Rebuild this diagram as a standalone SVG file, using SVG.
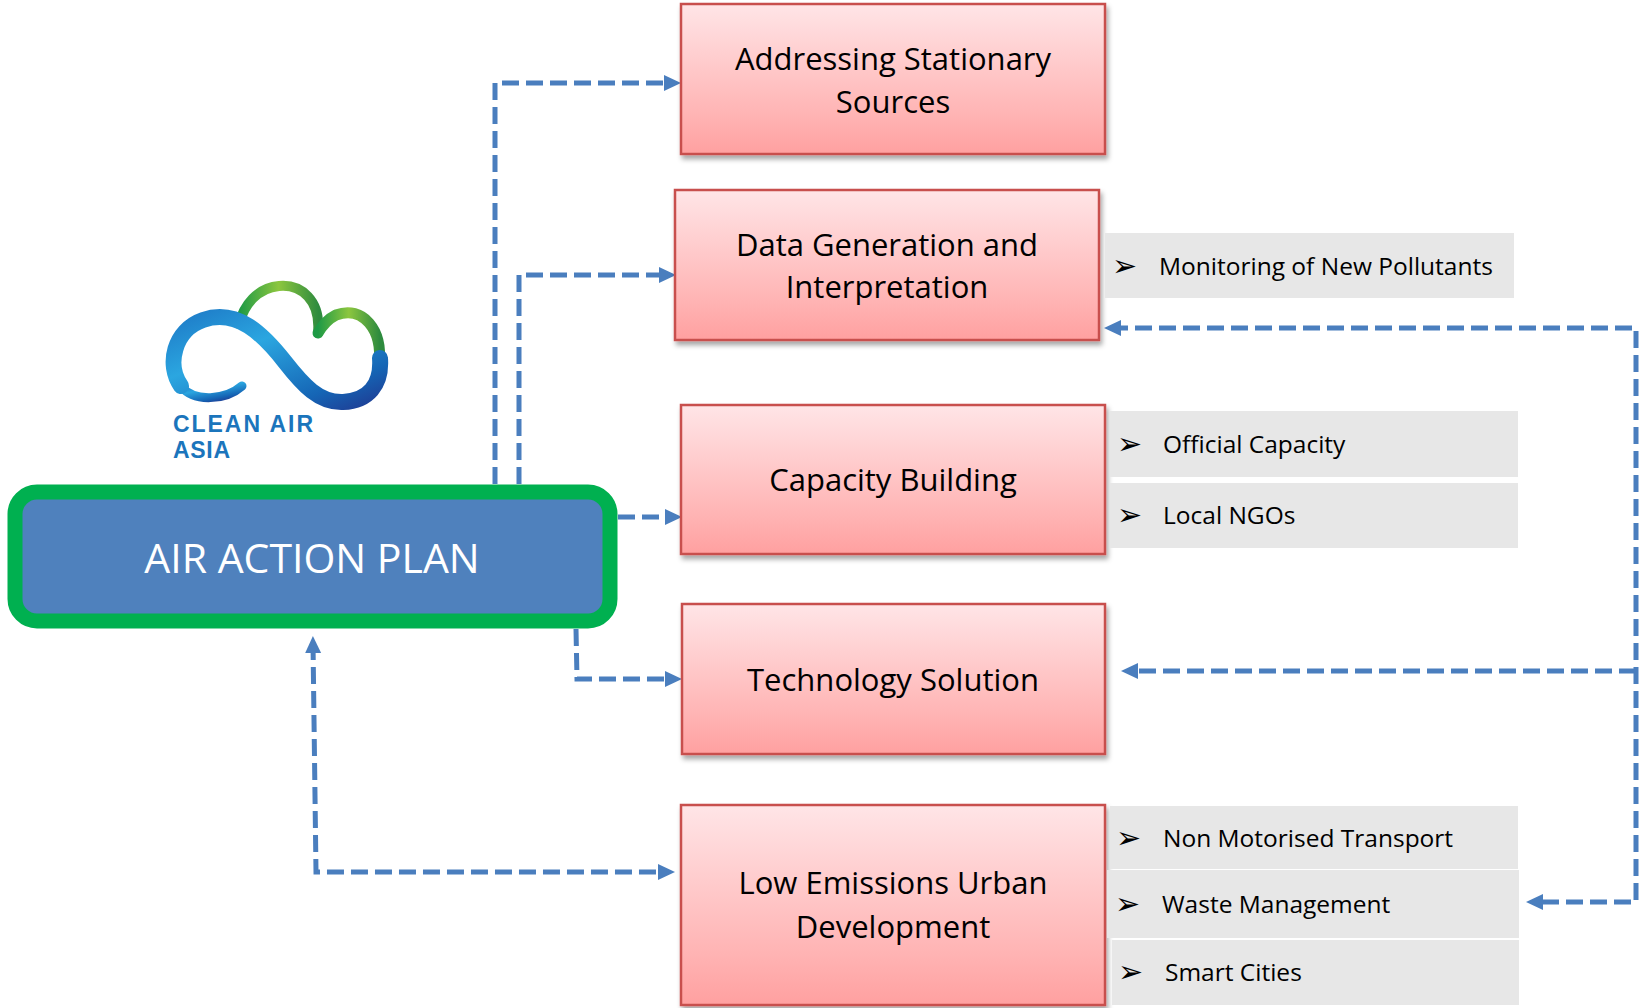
<svg xmlns="http://www.w3.org/2000/svg" width="1640" height="1008" viewBox="0 0 1640 1008">
<defs>
<style>
.box{fill:url(#pink);stroke:#C8504E;stroke-width:2.5;filter:url(#sh)}
.bt{font-family:"Open Sans","Liberation Sans",sans-serif;font-size:31px;fill:#000;text-anchor:middle}
.row{fill:#E7E7E7}
.rt{font-family:"Open Sans","Liberation Sans",sans-serif;font-size:24.5px;fill:#000}
.bul{font-family:"DejaVu Sans",sans-serif;font-size:30px;fill:#000}
.con{fill:none;stroke:#4A7EBE;stroke-width:5;stroke-dasharray:17 7}
.logo{font-family:"Liberation Sans",Arial,sans-serif;font-weight:bold;font-size:23px;fill:#1B75BC}
</style>
<linearGradient id="pink" x1="0" y1="0" x2="0" y2="1">
<stop offset="0" stop-color="#FFE5E7"/>
<stop offset="0.75" stop-color="#FFB3B3"/>
<stop offset="1" stop-color="#FFA0A0"/>
</linearGradient>
<linearGradient id="blueg" x1="0" y1="0" x2="1" y2="1">
<stop offset="0" stop-color="#1E7CC8"/>
<stop offset="0.35" stop-color="#2BA6E0"/>
<stop offset="0.8" stop-color="#1565B5"/>
<stop offset="1" stop-color="#1E3F96"/>
</linearGradient>
<linearGradient id="greeng" x1="0" y1="0" x2="1" y2="0">
<stop offset="0" stop-color="#1E9A45"/>
<stop offset="0.5" stop-color="#8CC63F"/>
<stop offset="1" stop-color="#2E8B3E"/>
</linearGradient>
<filter id="sh" x="-5%" y="-5%" width="115%" height="120%">
<feDropShadow dx="2" dy="4" stdDeviation="2.5" flood-color="#000" flood-opacity="0.35"/>
</filter>
<marker id="ah" markerUnits="userSpaceOnUse" markerWidth="18" markerHeight="18" refX="10" refY="8" orient="auto-start-reverse">
<path d="M0,0 L17,8 L0,16 z" fill="#4A7EBE"/>
</marker>
</defs>
<rect width="1640" height="1008" fill="#fff"/>

<g id="logo">
<path d="M318 333 C321 300 301 284 279 286 C257 288 244 305 239 324" fill="none" stroke="url(#greeng)" stroke-width="10" stroke-linecap="round"/>
<path d="M379 364 C383 330 363 305 336 315 C328 319 322 326 318 333" fill="none" stroke="url(#greeng)" stroke-width="11" stroke-linecap="round"/>
<path d="M242 386 C226 400 194 403 181 386" fill="none" stroke="url(#blueg)" stroke-width="9" stroke-linecap="round"/>
<path d="M181 386 C166 365 174 330 203 320 C237 308 263 334 285 362 C303 385 319 403 343 402 C368 401 382 385 380 358" fill="none" stroke="url(#blueg)" stroke-width="16" stroke-linecap="round"/>
<text class="logo" x="173" y="432" textLength="140" lengthAdjust="spacing">CLEAN AIR</text>
<text class="logo" x="173" y="458" textLength="57" lengthAdjust="spacing">ASIA</text>
</g>

<g id="connectors">
<path class="con" d="M495 484 V83 H674" marker-end="url(#ah)"/>
<path class="con" d="M519 484 V275 H669" marker-end="url(#ah)"/>
<path class="con" d="M618 517 H675" marker-end="url(#ah)"/>
<path class="con" d="M576 629 L577 679 H675" marker-end="url(#ah)"/>
<path class="con" d="M313 643 L316 872 H668" marker-start="url(#ah)" marker-end="url(#ah)"/>
<path class="con" d="M1111 328 H1636 V902 H1533" marker-start="url(#ah)" marker-end="url(#ah)"/>
<path class="con" d="M1636 671 H1128" marker-end="url(#ah)"/>
</g>

<g id="air-action-plan">
<rect x="15" y="492" width="595" height="129" rx="22" fill="#4F81BD" stroke="#00B050" stroke-width="15"/>
<text x="312" y="573" font-family="Open Sans, Liberation Sans, sans-serif" font-size="41" fill="#fff" text-anchor="middle">AIR ACTION PLAN</text>
</g>

<g id="addressing-stationary-sources">
<rect class="box" x="681" y="4" width="424" height="150"/>
<text class="bt" x="893" y="70">Addressing Stationary</text>
<text class="bt" x="893" y="113">Sources</text>
</g>

<g id="data-generation">
<rect class="box" x="675" y="190" width="424" height="150"/>
<text class="bt" x="887" y="256">Data Generation and</text>
<text class="bt" x="887" y="298">Interpretation</text>
</g>

<g id="capacity-building">
<rect class="box" x="681" y="405" width="424" height="149"/>
<text class="bt" x="893" y="491">Capacity Building</text>
</g>

<g id="technology-solution">
<rect class="box" x="682" y="604" width="423" height="150"/>
<text class="bt" x="893" y="691">Technology Solution</text>
</g>

<g id="low-emissions">
<rect class="box" x="681" y="805" width="424" height="200"/>
<text class="bt" x="893" y="894">Low Emissions Urban</text>
<text class="bt" x="893" y="938">Development</text>
</g>

<g id="monitoring">
<rect class="row" x="1105" y="233" width="409" height="65"/>
<text class="bul" x="1112" y="276">➢</text>
<text class="rt" x="1159" y="275">Monitoring of New Pollutants</text>
</g>

<g id="official-capacity">
<rect class="row" x="1110" y="411" width="408" height="66"/>
<text class="bul" x="1117" y="454">➢</text>
<text class="rt" x="1163" y="453">Official Capacity</text>
</g>

<g id="local-ngos">
<rect class="row" x="1110" y="483" width="408" height="65"/>
<text class="bul" x="1117" y="525">➢</text>
<text class="rt" x="1163" y="524">Local NGOs</text>
</g>

<g id="non-motorised">
<rect class="row" x="1110" y="806" width="408" height="63"/>
<text class="bul" x="1116" y="848">➢</text>
<text class="rt" x="1163" y="847">Non Motorised Transport</text>
</g>

<g id="waste-management">
<rect class="row" x="1107" y="870" width="412" height="68"/>
<text class="bul" x="1115" y="914">➢</text>
<text class="rt" x="1162" y="913">Waste Management</text>
</g>

<g id="smart-cities">
<rect class="row" x="1112" y="940" width="407" height="65"/>
<text class="bul" x="1118" y="982">➢</text>
<text class="rt" x="1165" y="981">Smart Cities</text>
</g>
</svg>
